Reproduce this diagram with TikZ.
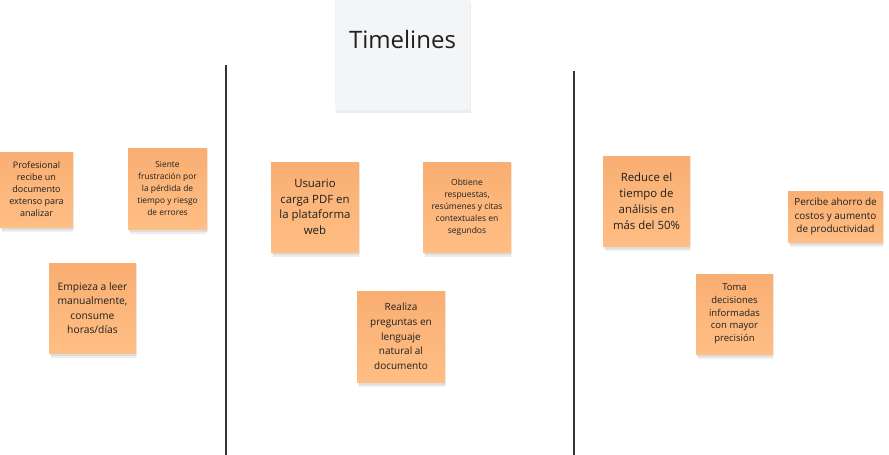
\documentclass[tikz,border=0pt]{standalone}
\usepackage{fontspec}
\setmainfont{Open Sans}
\definecolor{stickyA}{HTML}{F9AE72}
\definecolor{stickyB}{HTML}{FFBE84}
\definecolor{titlebg}{HTML}{F4F5F7}
\definecolor{ink}{HTML}{1F1F1F}
\definecolor{rule}{HTML}{333333}
\tikzset{
  sticky/.style={rectangle, top color=stickyA, bottom color=stickyB, inner sep=2pt,
    align=center, text=ink},
  shadowbox/.style={fill=black, opacity=0.07},
  divider/.style={draw=rule, line width=2pt}
}
\newcommand{\stk}[8]{% name, cx, cy, w, h, fontsize, baseline, text
  \fill[shadowbox] (#2-#4/2+1, #3-#5/2+1) rectangle (#2+#4/2+1, #3+#5/2+3);
  \fill[shadowbox] (#2-#4/2+2, #3-#5/2+2) rectangle (#2+#4/2, #3+#5/2+5);
  \node[sticky, font=\fontsize{#6}{#7}\selectfont, minimum width=#4pt, minimum height=#5pt] (#1) at (#2,#3) {#8};
}
\begin{document}
\begin{tikzpicture}[x=1pt, y=-1pt]
\useasboundingbox (0,0) rectangle (889,455);
% title
\fill[shadowbox] (336,2) rectangle (471,113);
\node[rectangle, fill=titlebg, minimum width=135pt, minimum height=110pt, inner sep=0pt] (titlebox) at (402.5,55) {};
\node[font=\fontsize{24}{28}\selectfont, text=ink] (title) at (402.5,39) {Timelines};
% dividers
\coordinate (d1top) at (225.7,65);
\coordinate (d1bot) at (225.7,455);
\coordinate (d2top) at (574,71);
\coordinate (d2bot) at (574,455);
\draw[divider] (d1top) -- (d1bot);
\draw[divider] (d2top) -- (d2bot);
% stickies
\stk{n1}{36.5}{189.5}{73}{75}{9}{12}{Profesional\\recibe un\\documento\\extenso para\\analizar}
\stk{n2}{167.5}{188.5}{79}{81}{8.4}{12}{Siente\\frustración por\\la pérdida de\\tiempo y riesgo\\de errores}
\stk{n3}{92.5}{308}{87}{90}{10.3}{14.3}{Empieza a leer\\manualmente,\\consume\\horas/días}
\stk{n4}{315}{207}{88}{90}{11.4}{15.7}{Usuario\\carga PDF en\\la plataforma\\web}
\stk{n5}{467}{207}{88}{90}{8.5}{12}{Obtiene\\respuestas,\\resúmenes y citas\\contextuales en\\segundos}
\stk{n6}{401}{336.5}{88}{91}{10}{14.7}{Realiza\\preguntas en\\lenguaje\\natural al\\documento}
\stk{n7}{646.5}{201}{87}{90}{11.4}{16}{Reduce el\\tiempo de\\análisis en\\más del 50\%}
\stk{n8}{835.5}{216.5}{95}{51}{9.9}{13.3}{Percibe ahorro de\\costos y aumento\\de productividad}
\stk{n9}{734.5}{314}{77}{80}{9.5}{12.7}{Toma\\decisiones\\informadas\\con mayor\\precisión}
\end{tikzpicture}
\end{document}
